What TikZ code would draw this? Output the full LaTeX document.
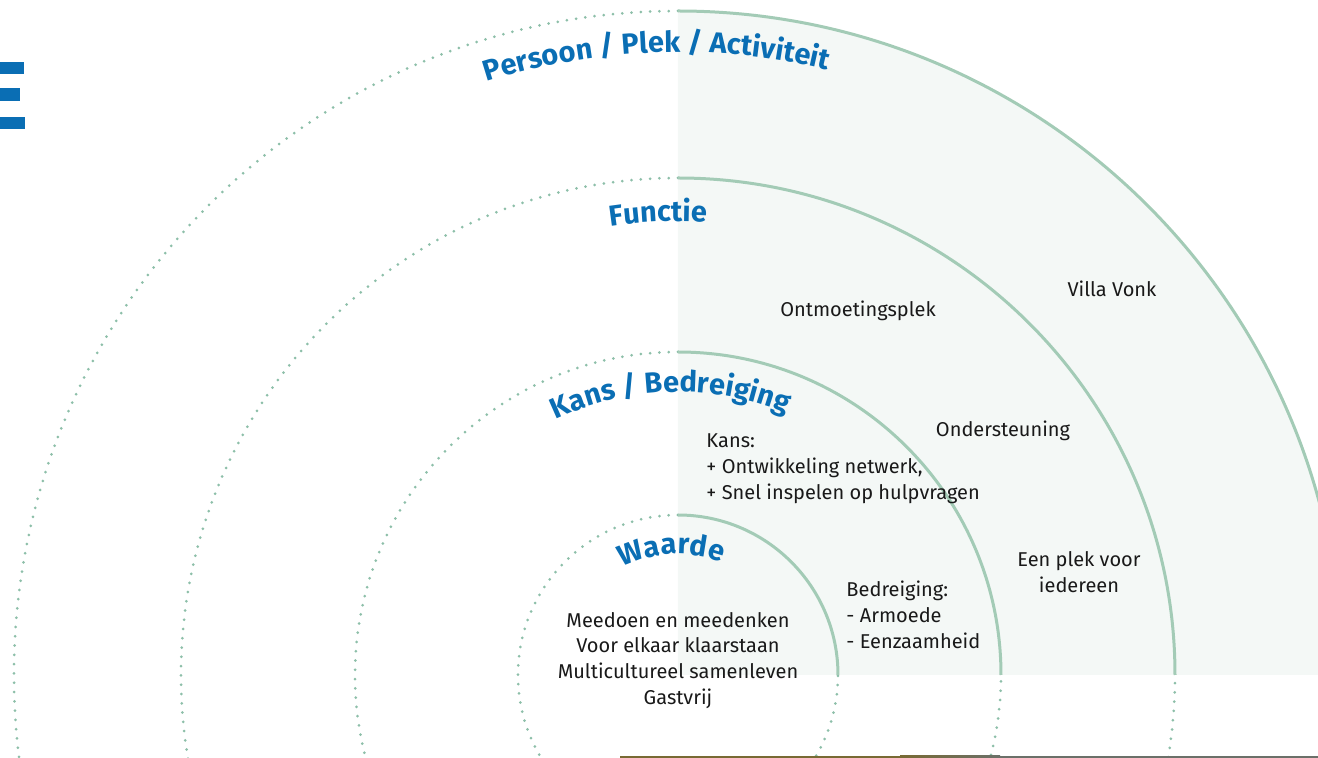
\documentclass[tikz,border=0pt]{standalone}
\usepackage{fontspec}
\setmainfont{Fira Sans}
\usetikzlibrary{decorations.text}
\definecolor{labelblue}{HTML}{0A6EB4}
\definecolor{ringgreen}{HTML}{A3CBB6}
\definecolor{ringdot}{HTML}{8DBFA9}
\definecolor{quadfill}{HTML}{F4F8F6}
\definecolor{barolive}{HTML}{786A33}
\definecolor{bargray}{HTML}{6B7069}
\tikzset{every picture/.style={line width=3pt},
  ringline/.style={draw=ringgreen, line width=3pt},
  ringdots/.style={draw=ringdot, line width=3pt, line cap=round, dash pattern=on 0pt off 9.3pt},
  bodytext/.style={font=\fontsize{20}{26}\selectfont, text=black!90, inner sep=0pt},
  ringlabel/.style={decorate, decoration={text along path, text align=center, text color=labelblue,
    text={|\fontsize{29}{29}\selectfont\bfseries|#1}}}}

\begin{document}
\begin{tikzpicture}[x=1pt, y=1pt]
\useasboundingbox (-678,-83) rectangle (640,675);

% shaded quarter
\fill[quadfill] (0,0) -- (90:664) arc[start angle=90, end angle=0, radius=664] -- cycle;

% rings
\foreach \r in {160,323,497,664} {
  \draw[ringdots] (90:\r) arc[start angle=90, end angle=360, radius=\r];
  \draw[ringline] (90:\r) arc[start angle=90, end angle=0, radius=\r];
}

% ring titles
\path[ringlabel={Waarde}] (183:121) arc[start angle=183, end angle=3, radius=121];
\path[ringlabel={Kans / Bedreiging}] (181.5:283) arc[start angle=181.5, end angle=1.5, radius=283];
\path[ringlabel={Functie}] (182.5:454) arc[start angle=182.5, end angle=2.5, radius=454];
\path[ringlabel={Persoon / Plek / Activiteit}] (182:623) arc[start angle=182, end angle=2, radius=623];

% texts (base = last line)
\begin{scope}[every node/.style={bodytext}]
\node[anchor=base, align=center] (waarden) at (0,-30)
  {Meedoen en meedenken\\Voor elkaar klaarstaan\\Multicultureel samenleven\\Gastvrij};
\node[anchor=base west, align=left] (kans) at (27,175)
  {Kans:\\+ Ontwikkeling netwerk,\\+ Snel inspelen op hulpvragen};
\node[anchor=base west, align=left] (bedreiging) at (167,26)
  {Bedreiging:\\- Armoede\\- Eenzaamheid};
\node[anchor=base] (ontmoet) at (180,358) {Ontmoetingsplek};
\node[anchor=base] (onderst) at (325,238) {Ondersteuning};
\node[anchor=base, align=center] (plek) at (401,82) {Een plek voor\\iedereen};
\node[anchor=base] (villa) at (434,378) {Villa Vonk};
\end{scope}

% cut-off heading letter
\fill[labelblue] (-678,613) rectangle (-654,601);
\fill[labelblue] (-678,587) rectangle (-658,574);
\fill[labelblue] (-678,558) rectangle (-653,546);

% bottom rule
\fill[barolive] (-58,-80.5) rectangle (222,-83);
\shade[left color=barolive, right color=bargray] (222,-80.5) rectangle (322,-83);
\fill[bargray] (322,-80.5) rectangle (640,-83);
\end{tikzpicture}
\end{document}
